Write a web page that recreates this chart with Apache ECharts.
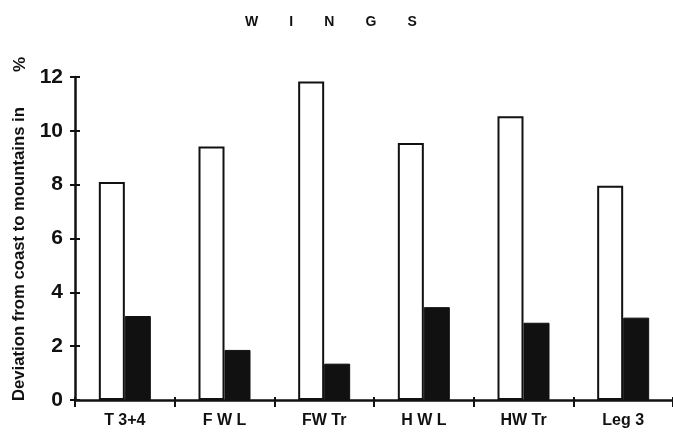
<!DOCTYPE html>
<html><head><meta charset="utf-8">
<script src="https://cdn.jsdelivr.net/npm/echarts@6/dist/echarts.min.js"></script>
<style>html,body{margin:0;padding:0;background:#fff}#c{width:673px;height:438px}</style>
</head><body><div id="c"></div>
<script>
const categories = ['T 3+4', 'F W L', 'FW Tr', 'H W L', 'HW Tr', 'Leg 3'];
const coastValues = [8.1, 9.42, 11.83, 9.55, 10.54, 7.96];
const mountainValues = [3.12, 1.86, 1.35, 3.45, 2.87, 3.06];
const yTicks = [0, 2, 4, 6, 8, 10, 12];
const titleText = 'W        I        N        G        S';
const yName = 'Deviation from coast to mountains in';

const FONT = '"Liberation Sans", Arial, sans-serif';
const chart = echarts.init(document.getElementById('c'), null, {renderer: 'canvas'});
chart.setOption({
  animation: false,
  backgroundColor: '#fff',
  title: {text: titleText, left: 240, top: 10,
    textStyle: {fontFamily: FONT, fontWeight: 'bold', fontSize: 14, color: '#111'}},
  grid: {left: 75, right: -2, top: 77, bottom: 38},
  xAxis: [{
    type: 'category', data: categories,
    axisLine: {lineStyle: {color: '#111', width: 2.5}},
    axisTick: {show: true, length: 7, lineStyle: {color: '#111', width: 2}},
    axisLabel: {color: '#111', fontFamily: FONT, fontWeight: 'bold', fontSize: 16, margin: 13}
  }, {
    type: 'category', data: categories, position: 'bottom',
    axisLine: {show: false},
    axisTick: {show: true, inside: true, length: 3, lineStyle: {color: '#111', width: 2}},
    axisLabel: {show: false}
  }],
  yAxis: [{
    type: 'value', min: yTicks[0], max: yTicks[yTicks.length - 1], interval: 2,
    splitLine: {show: false},
    axisLine: {show: true, lineStyle: {color: '#111', width: 2.5}},
    axisTick: {show: true, length: 5, lineStyle: {color: '#111', width: 2}},
    axisLabel: {color: '#111', fontFamily: FONT, fontWeight: 'bold', fontSize: 21, margin: 12}
  }, {
    type: 'value', min: yTicks[0], max: yTicks[yTicks.length - 1], interval: 2, position: 'left',
    splitLine: {show: false},
    axisLine: {show: false},
    axisTick: {show: true, inside: true, length: 5, lineStyle: {color: '#111', width: 2}},
    axisLabel: {show: false}
  }],
  graphic: [{
    type: 'group', x: 11, y: 401, rotation: Math.PI / 2,
    children: [
      {type: 'text', style: {text: yName, font: 'bold 16.7px ' + FONT, fill: '#111', textVerticalAlign: 'top'}},
      {type: 'text', x: 329, y: 1, style: {text: '%', font: 'bold 17px ' + FONT, fill: '#111', textVerticalAlign: 'top'}}
    ]
  }],
  series: [{
    type: 'bar', data: coastValues, barWidth: 26, barGap: '0%',
    itemStyle: {color: '#fff', borderColor: '#111', borderWidth: 2}
  }, {
    type: 'bar', data: mountainValues, barWidth: 26, barGap: '0%',
    itemStyle: {color: '#111', borderColor: '#111', borderWidth: 1}
  }]
});
</script>
</body></html>
